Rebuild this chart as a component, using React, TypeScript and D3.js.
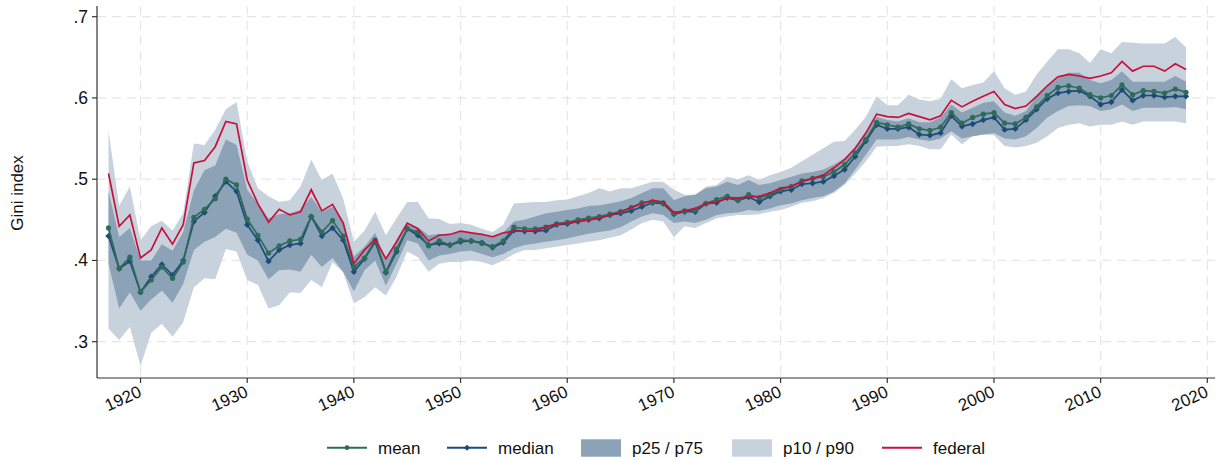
import React from "react";
import * as d3 from "d3";

const years = [
  1917, 1918, 1919, 1920, 1921, 1922, 1923, 1924, 1925, 1926, 1927, 1928, 1929,
  1930, 1931, 1932, 1933, 1934, 1935, 1936, 1937, 1938, 1939, 1940, 1941, 1942,
  1943, 1944, 1945, 1946, 1947, 1948, 1949, 1950, 1951, 1952, 1953, 1954, 1955,
  1956, 1957, 1958, 1959, 1960, 1961, 1962, 1963, 1964, 1965, 1966, 1967, 1968,
  1969, 1970, 1971, 1972, 1973, 1974, 1975, 1976, 1977, 1978, 1979, 1980, 1981,
  1982, 1983, 1984, 1985, 1986, 1987, 1988, 1989, 1990, 1991, 1992, 1993, 1994,
  1995, 1996, 1997, 1998, 1999, 2000, 2001, 2002, 2003, 2004, 2005, 2006, 2007,
  2008, 2009, 2010, 2011, 2012, 2013, 2014, 2015, 2016, 2017, 2018,
];

const meanValues = [
  0.44, 0.39, 0.404, 0.361, 0.376, 0.392, 0.378, 0.398, 0.453, 0.463, 0.476, 0.5, 0.493,
  0.451, 0.431, 0.409, 0.418, 0.424, 0.426, 0.454, 0.435, 0.449, 0.43, 0.392, 0.403, 0.425,
  0.386, 0.414, 0.439, 0.435, 0.418, 0.424, 0.419, 0.425, 0.424, 0.421, 0.417, 0.424, 0.441,
  0.439, 0.439, 0.441, 0.445, 0.447, 0.45, 0.452, 0.454, 0.457, 0.46, 0.465, 0.471, 0.472,
  0.471, 0.458, 0.461, 0.462, 0.47, 0.475, 0.479, 0.474, 0.481, 0.477, 0.481, 0.487, 0.491,
  0.498, 0.501, 0.503, 0.509, 0.518, 0.532, 0.549, 0.57, 0.567, 0.564, 0.568, 0.562, 0.56,
  0.564, 0.582, 0.569, 0.576, 0.58, 0.582, 0.569, 0.568, 0.576, 0.589, 0.603, 0.613, 0.615,
  0.612, 0.604, 0.6, 0.603, 0.616, 0.604, 0.609, 0.608, 0.606, 0.611, 0.607,
];

const medianValues = [
  0.43, 0.39, 0.399, 0.361, 0.38, 0.395, 0.382, 0.4, 0.448, 0.459, 0.479, 0.497, 0.485,
  0.444, 0.425, 0.399, 0.413, 0.419, 0.421, 0.454, 0.43, 0.44, 0.425, 0.386, 0.402, 0.423,
  0.385, 0.411, 0.439, 0.431, 0.419, 0.421, 0.419, 0.423, 0.424, 0.422, 0.416, 0.422, 0.437,
  0.436, 0.436, 0.437, 0.444, 0.445, 0.448, 0.45, 0.452, 0.456, 0.458, 0.461, 0.466, 0.471,
  0.47, 0.457, 0.46, 0.46, 0.47, 0.471, 0.477, 0.474, 0.478, 0.472, 0.479, 0.485, 0.487,
  0.494, 0.495, 0.497, 0.504, 0.512, 0.528, 0.547, 0.567, 0.562, 0.562, 0.564, 0.555, 0.554,
  0.557, 0.578, 0.565, 0.568, 0.573, 0.576, 0.561, 0.562, 0.573, 0.586, 0.599, 0.606, 0.608,
  0.609, 0.602, 0.592, 0.595, 0.61, 0.597, 0.603, 0.603, 0.601, 0.602, 0.602,
];

const federalValues = [
  0.507, 0.442, 0.456, 0.403, 0.413, 0.44, 0.42, 0.444, 0.52, 0.523, 0.54, 0.571, 0.568,
  0.499, 0.47, 0.447, 0.463, 0.456, 0.46, 0.487, 0.461, 0.469, 0.446, 0.396, 0.413, 0.426,
  0.402, 0.423, 0.446, 0.439, 0.424, 0.431, 0.432, 0.436, 0.434, 0.432, 0.429, 0.434, 0.436,
  0.436, 0.437, 0.441, 0.445, 0.446, 0.448, 0.45, 0.452, 0.456, 0.46, 0.465, 0.47, 0.474,
  0.472, 0.459, 0.461, 0.464, 0.47, 0.472, 0.477, 0.477, 0.478, 0.479, 0.483, 0.489, 0.491,
  0.497, 0.501, 0.505, 0.514, 0.524, 0.538, 0.557, 0.58, 0.577, 0.576, 0.581, 0.577, 0.573,
  0.578, 0.597, 0.589, 0.596, 0.602, 0.608, 0.592, 0.587, 0.59, 0.602, 0.615, 0.626, 0.629,
  0.627, 0.624, 0.627, 0.631, 0.645, 0.633, 0.639, 0.639, 0.633, 0.642, 0.635,
];

const p75Values = [
  0.485, 0.429, 0.44, 0.4, 0.4, 0.42, 0.412, 0.435, 0.486, 0.511, 0.517, 0.549, 0.542,
  0.487, 0.47, 0.452, 0.457, 0.458, 0.462, 0.478, 0.46, 0.466, 0.448, 0.405, 0.417, 0.434,
  0.4, 0.423, 0.446, 0.441, 0.431, 0.433, 0.431, 0.435, 0.434, 0.431, 0.428, 0.434, 0.448,
  0.45, 0.454, 0.458, 0.46, 0.462, 0.464, 0.467, 0.468, 0.47, 0.473, 0.477, 0.483, 0.489,
  0.489, 0.474, 0.479, 0.481, 0.489, 0.491, 0.497, 0.493, 0.499, 0.493, 0.495, 0.499, 0.503,
  0.507, 0.509, 0.512, 0.518, 0.526, 0.54, 0.559, 0.577, 0.573, 0.571, 0.575, 0.57, 0.57,
  0.576, 0.592, 0.582, 0.588, 0.594, 0.596, 0.582, 0.578, 0.584, 0.602, 0.614, 0.624, 0.631,
  0.631, 0.622, 0.618, 0.622, 0.633, 0.62, 0.62, 0.62, 0.62, 0.627, 0.62,
];

const p25Values = [
  0.396, 0.341, 0.361, 0.338, 0.352, 0.363, 0.348, 0.371, 0.413, 0.423, 0.429, 0.439, 0.434,
  0.407, 0.4, 0.377, 0.388, 0.389, 0.386, 0.407, 0.392, 0.403, 0.386, 0.362, 0.388, 0.4,
  0.369, 0.396, 0.425, 0.421, 0.4, 0.406, 0.408, 0.411, 0.412, 0.408, 0.404, 0.408, 0.415,
  0.419, 0.421, 0.423, 0.425, 0.427, 0.43, 0.433, 0.435, 0.437, 0.441, 0.448, 0.454, 0.458,
  0.456, 0.446, 0.448, 0.446, 0.45, 0.456, 0.458, 0.459, 0.462, 0.461, 0.464, 0.468, 0.47,
  0.474, 0.477, 0.479, 0.485, 0.495, 0.512, 0.53, 0.549, 0.549, 0.549, 0.552, 0.549, 0.547,
  0.55, 0.559, 0.55, 0.553, 0.555, 0.557, 0.55, 0.549, 0.553, 0.563, 0.576, 0.584, 0.59,
  0.591, 0.59, 0.584, 0.586, 0.592, 0.584, 0.588, 0.588, 0.588, 0.589, 0.586,
];

const p90Values = [
  0.559, 0.467, 0.491, 0.425, 0.442, 0.449, 0.437, 0.458, 0.544, 0.542, 0.561, 0.586, 0.595,
  0.522, 0.489, 0.479, 0.472, 0.474, 0.491, 0.524, 0.499, 0.507, 0.476, 0.423, 0.437, 0.46,
  0.431, 0.452, 0.472, 0.472, 0.452, 0.451, 0.445, 0.446, 0.444, 0.439, 0.435, 0.444, 0.47,
  0.471, 0.472, 0.472, 0.474, 0.475, 0.479, 0.483, 0.489, 0.485, 0.489, 0.489, 0.493, 0.497,
  0.497, 0.487, 0.481, 0.481, 0.491, 0.493, 0.503, 0.5, 0.505, 0.499, 0.505, 0.509, 0.514,
  0.522, 0.53, 0.538, 0.546, 0.547, 0.561, 0.577, 0.602, 0.591, 0.591, 0.604, 0.598, 0.596,
  0.599, 0.623, 0.612, 0.616, 0.619, 0.633, 0.612, 0.604, 0.608, 0.629, 0.645, 0.66, 0.66,
  0.655, 0.643, 0.66, 0.655, 0.669, 0.668, 0.667, 0.667, 0.667, 0.675, 0.662,
];

const p10Values = [
  0.316, 0.302, 0.318, 0.27, 0.311, 0.322, 0.306, 0.324, 0.367, 0.378, 0.377, 0.414, 0.411,
  0.376, 0.37, 0.341, 0.345, 0.361, 0.36, 0.376, 0.367, 0.398, 0.385, 0.347, 0.355, 0.367,
  0.357, 0.38, 0.411, 0.404, 0.386, 0.396, 0.398, 0.398, 0.4, 0.398, 0.394, 0.4, 0.408,
  0.413, 0.413, 0.415, 0.417, 0.419, 0.421, 0.423, 0.425, 0.428, 0.431, 0.438, 0.446, 0.45,
  0.448, 0.429, 0.442, 0.44, 0.446, 0.452, 0.454, 0.456, 0.456, 0.457, 0.46, 0.462, 0.466,
  0.471, 0.473, 0.477, 0.483, 0.493, 0.507, 0.522, 0.54, 0.541, 0.541, 0.543, 0.541, 0.537,
  0.537, 0.555, 0.543, 0.553, 0.555, 0.554, 0.541, 0.539, 0.541, 0.545, 0.553, 0.563, 0.567,
  0.569, 0.565, 0.567, 0.567, 0.571, 0.567, 0.571, 0.571, 0.571, 0.571, 0.569,
];

const yTicks = [0.3, 0.4, 0.5, 0.6, 0.7];
const yTickLabels = [".3", ".4", ".5", ".6", ".7"];
const xTicks = [1920, 1930, 1940, 1950, 1960, 1970, 1980, 1990, 2000, 2010, 2020];

const legendItems = [
  { label: "mean", kind: "line", marker: "circle", color: "#2e6b5b", x: 327 },
  { label: "median", kind: "line", marker: "diamond", color: "#1d4a77", x: 447 },
  { label: "p25 / p75", kind: "swatch", color: "#8ca2b6", x: 581 },
  { label: "p10 / p90", kind: "swatch", color: "#c7d2dd", x: 732 },
  { label: "federal", kind: "line", marker: "none", color: "#c8103c", x: 882 },
];

const W = 1225;
const H = 460;
const FONT = "'Liberation Sans', Arial, Helvetica, sans-serif";

export default function App() {
  const x = d3.scaleLinear().domain([1915.92, 2020.72]).range([97, 1215]);
  const y = d3.scaleLinear().domain([0.7, 0.3]).range([16.7, 341.7]);
  const plotTop = 6;
  const plotBottom = 378;
  const plotLeft = 97;
  const plotRight = 1215;

  const idx = years.map((_, i) => i);
  const area = (lo: number[], hi: number[]) =>
    d3
      .area<number>()
      .x((i) => x(years[i]))
      .y0((i) => y(lo[i]))
      .y1((i) => y(hi[i]))(idx) || "";
  const line = (vals: number[]) =>
    d3
      .line<number>()
      .x((i) => x(years[i]))
      .y((i) => y(vals[i]))(idx) || "";

  const diamond = (cx: number, cy: number, r: number) =>
    `M${cx},${cy - r}L${cx + r},${cy}L${cx},${cy + r}L${cx - r},${cy}Z`;

  const meanColor = "#2e6b5b";
  const medianColor = "#1d4a77";
  const fedColor = "#c8103c";

  return (
    <svg
      width={W}
      height={H}
      style={{ position: "absolute", left: 0, top: 0, background: "#fff" }}
      fontFamily={FONT}
    >
      <rect x={0} y={0} width={W} height={H} fill="#fff" />
      {yTicks.map((t) => (
        <line
          key={"gy" + t}
          x1={plotLeft}
          x2={plotRight}
          y1={y(t)}
          y2={y(t)}
          stroke="#e6e6e6"
          strokeWidth={1.2}
          strokeDasharray="9,6"
        />
      ))}
      {xTicks.map((t) => (
        <line
          key={"gx" + t}
          x1={x(t)}
          x2={x(t)}
          y1={plotTop}
          y2={plotBottom}
          stroke="#e6e6e6"
          strokeWidth={1.2}
          strokeDasharray="9,6"
        />
      ))}
      <path d={area(p10Values, p90Values)} fill="#c7d2dd" />
      <path d={area(p25Values, p75Values)} fill="#8ca2b6" />
      <path d={line(medianValues)} fill="none" stroke={medianColor} strokeWidth={1.7} />
      {years.map((yr, i) => (
        <path key={"md" + yr} d={diamond(x(yr), y(medianValues[i]), 3.2)} fill={medianColor} />
      ))}
      <path d={line(meanValues)} fill="none" stroke={meanColor} strokeWidth={1.7} />
      {years.map((yr, i) => (
        <circle key={"mn" + yr} cx={x(yr)} cy={y(meanValues[i])} r={2.6} fill={meanColor} />
      ))}
      <path d={line(federalValues)} fill="none" stroke={fedColor} strokeWidth={1.7} />
      <line x1={plotLeft} x2={plotLeft} y1={plotTop} y2={plotBottom} stroke="#333" strokeWidth={1.2} />
      <line x1={plotLeft} x2={plotRight} y1={plotBottom} y2={plotBottom} stroke="#333" strokeWidth={1.2} />
      {yTicks.map((t, i) => (
        <g key={"yt" + t}>
          <line x1={plotLeft - 5} x2={plotLeft} y1={y(t)} y2={y(t)} stroke="#333" strokeWidth={1.2} />
          <text x={88} y={y(t) + 6} textAnchor="end" fontSize={17.5} fill="#111">
            {yTickLabels[i]}
          </text>
        </g>
      ))}
      {xTicks.map((t) => (
        <g key={"xt" + t}>
          <line x1={x(t)} x2={x(t)} y1={plotBottom} y2={plotBottom + 5} stroke="#333" strokeWidth={1.2} />
          <text
            transform={`translate(${x(t) + 2},${396}) rotate(-24)`}
            textAnchor="end"
            fontSize={17}
            fill="#111"
          >
            {t}
          </text>
        </g>
      ))}
      <text transform="translate(22.5,193) rotate(-90)" textAnchor="middle" fontSize={17} fill="#111">
        Gini index
      </text>
      {legendItems.map((it) => (
        <g key={it.label}>
          {it.kind === "swatch" ? (
            <rect x={it.x} y={439.3} width={40} height={17.4} fill={it.color} />
          ) : (
            <g>
              <line x1={it.x} x2={it.x + 40} y1={447.7} y2={447.7} stroke={it.color} strokeWidth={2} />
              {it.marker === "circle" && <circle cx={it.x + 20} cy={447.7} r={2.4} fill={it.color} />}
              {it.marker === "diamond" && <path d={diamond(it.x + 20, 447.7, 3)} fill={it.color} />}
            </g>
          )}
          <text x={it.x + 51} y={453.8} fontSize={17} fill="#111">
            {it.label}
          </text>
        </g>
      ))}
    </svg>
  );
}
